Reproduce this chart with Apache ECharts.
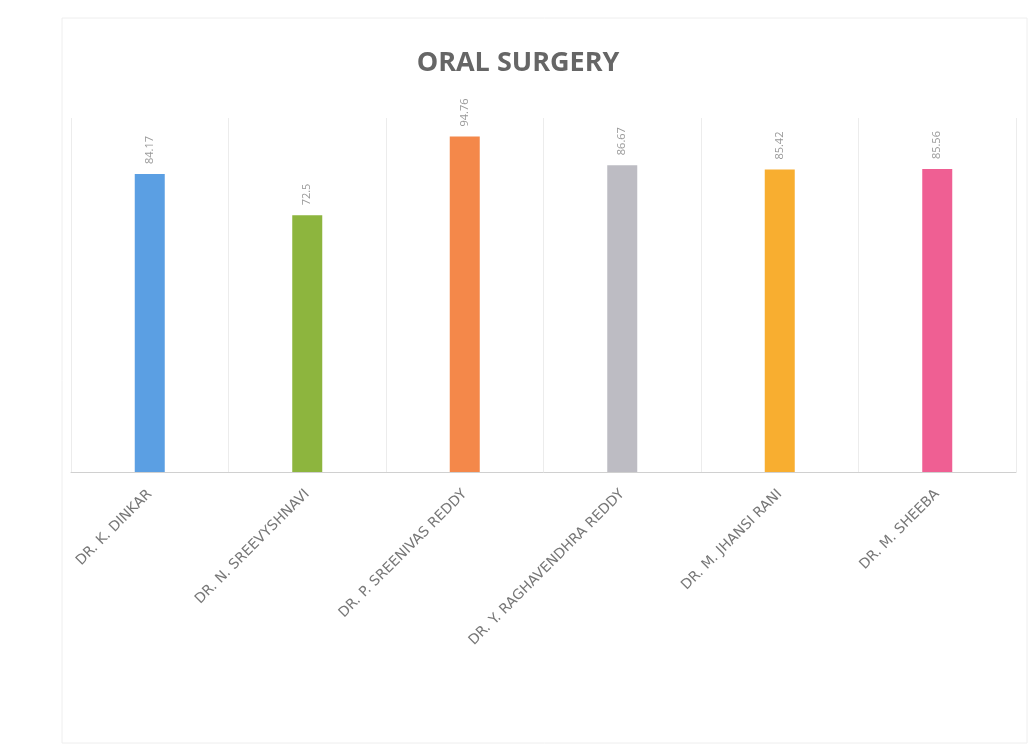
<!DOCTYPE html>
<html><head><meta charset="utf-8">
<script src="https://cdn.jsdelivr.net/npm/echarts@6/dist/echarts.min.js"></script>
<style>html,body{margin:0;padding:0;background:#fff}#c{width:1036px;height:753px}</style>
</head><body><div id="c"></div>
<script>
const categories = ["DR. K. DINKAR","DR. N. SREEVYSHNAVI","DR. P. SREENIVAS REDDY","DR. Y. RAGHAVENDHRA REDDY","DR. M. JHANSI RANI","DR. M. SHEEBA"];
const values = [84.17, 72.5, 94.76, 86.67, 85.42, 85.56];
const colors = ["#5B9FE3","#8DB53E","#F4884A","#BDBCC3","#F8AE30","#EF5F93"];
const chart = echarts.init(document.getElementById('c'));
chart.setOption({
  animation:false,
  title:{text:"ORAL SURGERY",left:'center',top:45,textStyle:{fontFamily:"Open Sans",fontWeight:'bold',fontSize:27,color:'#666666'}},
  graphic:[{type:'rect',shape:{x:62,y:18,width:965,height:725},style:{fill:'none',stroke:'#eeeeee',lineWidth:1},silent:true}],
  grid:{left:71,right:20,top:118,bottom:281},
  xAxis:{type:'category',data:categories,
    axisLine:{lineStyle:{color:'#d0d0d0'}},axisTick:{show:false},
    splitLine:{show:true,lineStyle:{color:'#ececec'}},
    axisLabel:{rotate:45,interval:0,color:'#777777',fontFamily:'DejaVu Sans',fontSize:14,margin:20}},
  yAxis:{type:'value',min:0,max:100,show:false},
  series:[{type:'bar',barWidth:30,
    data:values.map((v,i)=>({value:v,itemStyle:{color:colors[i]}})),
    label:{show:true,position:'top',rotate:90,align:'left',verticalAlign:'middle',distance:10,color:'#999999',fontFamily:'Open Sans',fontSize:11}}]
});
</script></body></html>
